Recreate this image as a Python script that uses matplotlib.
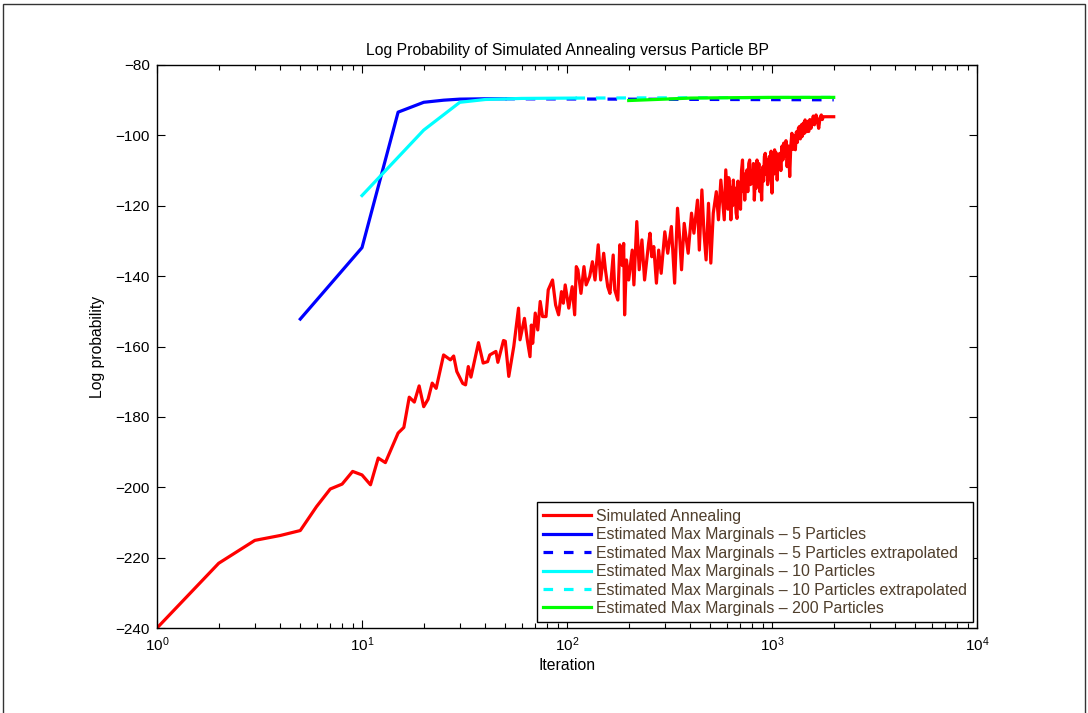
import numpy as np
import matplotlib
matplotlib.use('Agg')
import matplotlib.pyplot as plt
from matplotlib.patches import Rectangle

plt.rcParams['font.family'] = ['Liberation Sans', 'DejaVu Sans']

# Simulated annealing
sa_x = [1, 2, 3, 4, 5, 6, 7, 8, 9, 10, 11, 12, 13, 15, 16, 17, 18, 19, 20, 21,
        22, 23, 25, 27, 28, 29, 31, 32, 33, 34, 37, 39, 41, 42, 45, 46, 49, 50,
        52, 55, 58, 59, 62, 64, 66, 67, 68, 70, 72, 74, 76, 79, 81, 85, 88, 91,
        94, 96, 98, 102, 106, 109, 111, 113, 117, 121, 124, 129, 133, 137, 142,
        146, 151, 154, 158, 162, 168, 171, 177, 181, 186, 189, 191, 195, 200,
        208, 212, 219, 225, 232, 239, 250, 254, 259, 265, 273, 280, 288, 300,
        310, 323, 335, 346, 355, 362, 373, 390, 405, 416, 433, 442, 455, 466,
        477, 490, 503, 517, 535, 548, 563, 585, 595,
        610, 615, 623, 630, 637, 642, 648, 655, 660, 668, 675, 682, 688, 695,
        702, 710, 718, 725, 730, 736, 745, 755, 762, 770, 778, 785, 792, 804,
        812, 820, 830, 838, 845, 855, 863, 872, 880, 890, 900, 910, 918, 927,
        935, 945, 952, 960, 970, 980, 990, 1000, 1010, 1020, 1030, 1040, 1050,
        1060, 1070, 1080, 1090, 1105, 1120, 1130, 1140, 1155, 1170, 1185, 1200,
        1210, 1220, 1235, 1250, 1265, 1280, 1300, 1315, 1330, 1345, 1360, 1375,
        1390, 1400, 1420, 1435, 1450, 1470, 1490, 1510, 1530, 1550, 1570, 1590,
        1610, 1640, 1665, 1690, 1715, 1740, 1760, 1780, 2000]
sa_y = [-240, -221.6, -215.1, -213.7, -212.3, -205.5, -200.5, -199.1, -195.5,
        -196.5, -199.3, -191.7, -193, -184.6, -183, -174.4, -175.8, -171.2,
        -177.1, -175, -170.4, -171.9, -162.4, -163.8, -162.7, -167.1, -170.5,
        -170.9, -165.7, -168.7, -158.9, -164.7, -164.3, -162.4, -161.4, -164.5,
        -158.3, -158.5, -168.5, -160, -149.1, -158.1, -152, -158.1, -162.9,
        -153.9, -159.1, -150.5, -155.3, -147.2, -151.5, -151.5, -143.9, -141.1,
        -148.2, -151, -144.4, -147.7, -142.5, -149.1, -143, -151, -137.3,
        -138.2, -144.9, -137.3, -142.5, -140.1, -135.9, -141.1, -131.1, -141.1,
        -133.5, -138.2, -143, -144.9, -134, -143.9, -146.8, -131.1, -137,
        -130.7, -151, -135.4, -141.1, -132.6, -142.5, -124.5, -138.2, -129.7,
        -141.1, -130.7, -127.8, -134.5, -131.6, -142, -132.6, -139.2, -127.4,
        -133.5, -125.9, -142, -120.7, -129.7, -138.2, -125, -133.5, -122.1,
        -127.8, -118.4, -132.6, -115.5, -127.8, -135.4, -119.3, -136.3, -122.1,
        -116, -124, -112.7, -124, -109.8,
        -121, -112, -114.6, -124, -115, -120, -112.7, -118, -115, -122, -123.6,
        -113, -119, -115.5, -121, -110, -107, -116, -111, -118.4, -112, -109.8,
        -116, -108, -107, -114, -110, -113.6, -108, -118.4, -111, -115, -107,
        -113, -108, -116, -110, -118.4, -109, -113, -106, -105.1, -111, -107,
        -114, -112.7, -106, -110, -104.5, -116.4, -108, -111, -104.1, -109,
        -105, -112.7, -106, -109, -105.1, -110, -103, -107, -102.2, -106,
        -101.5, -108.9, -103, -106, -111.7, -103, -99.4, -104, -100, -104.1,
        -99, -102, -98, -97.5, -101, -97, -100.4, -96.5, -99.5, -95.6, -99,
        -96, -98.9, -95.5, -98, -96.1, -94.5, -97, -94.2, -96, -98, -95,
        -94.2, -95.5, -94.7, -94.7]

p5_x = [5, 10, 15, 20, 25, 30, 40, 50]
p5_y = [-152.2, -131.9, -93.4, -90.6, -90.0, -89.7, -89.6, -89.6]
p5_ext_x = [50, 2000]
p5_ext_y = [-89.6, -89.9]

p10_x = [10, 20, 30, 40, 60, 110]
p10_y = [-117.1, -98.5, -90.6, -89.8, -89.5, -89.4]
p10_ext_x = [110, 2000]
p10_ext_y = [-89.4, -89.2]

p200_x = [200, 300, 400, 600, 1000, 2000]
p200_y = [-90.1, -89.7, -89.4, -89.3, -89.2, -89.2]

labels = ['Simulated Annealing',
          'Estimated Max Marginals \u2013 5 Particles',
          'Estimated Max Marginals \u2013 5 Particles extrapolated',
          'Estimated Max Marginals \u2013 10 Particles',
          'Estimated Max Marginals \u2013 10 Particles extrapolated',
          'Estimated Max Marginals \u2013 200 Particles']

fig = plt.figure(figsize=(10.88, 7.13), dpi=100)
ax = fig.add_axes([157/1088, 85/713, 820/1088, 563/713])

lw = 2.3
dash = (0, (3, 3.4))
ax.plot(sa_x, sa_y, color=(1, 0, 0), lw=lw, label=labels[0])
ax.plot(p5_x, p5_y, color=(0, 0, 1), lw=lw, label=labels[1])
ax.plot(p5_ext_x, p5_ext_y, color=(0, 0, 1), lw=lw, ls=dash, label=labels[2])
ax.plot(p10_x, p10_y, color=(0, 1, 1), lw=lw, label=labels[3])
ax.plot(p10_ext_x, p10_ext_y, color=(0, 1, 1), lw=lw, ls=dash, label=labels[4])
ax.plot(p200_x, p200_y, color=(0, 1, 0), lw=lw, label=labels[5])

ax.set_xscale('log')
ax.set_xlim(1, 1e4)
ax.set_ylim(-240, -80)
ax.set_yticks(np.arange(-240, -79, 20))
ax.tick_params(which='both', direction='in', top=True, right=True,
               labelsize=11, width=0.8)
ax.tick_params(which='major', length=6, pad=5)
ax.tick_params(which='minor', length=3.5)
for s in ax.spines.values():
    s.set_linewidth(1.0)

ax.set_title('Log Probability of Simulated Annealing versus Particle BP',
             fontsize=11.3, pad=7)
ax.set_xlabel('Iteration', fontsize=11.3, labelpad=3)
ax.set_ylabel('Log probability', fontsize=11.3, labelpad=8)

leg = ax.legend(loc='lower right', bbox_to_anchor=(0.995, 0.01),
                fontsize=11.4, fancybox=False, framealpha=1, edgecolor='black',
                handlelength=3.0, labelspacing=0.22, borderpad=0.4,
                handletextpad=0.3, borderaxespad=0)
leg.get_frame().set_linewidth(1.0)
for t in leg.get_texts():
    t.set_color('#4f3e2c')

fig.patches.append(Rectangle((3/1088, -0.1), 1082/1088, 1.1 - 4/713,
                             transform=fig.transFigure, fill=False,
                             edgecolor='#333333', lw=1.0))

fig.savefig('out.png', dpi=100)
